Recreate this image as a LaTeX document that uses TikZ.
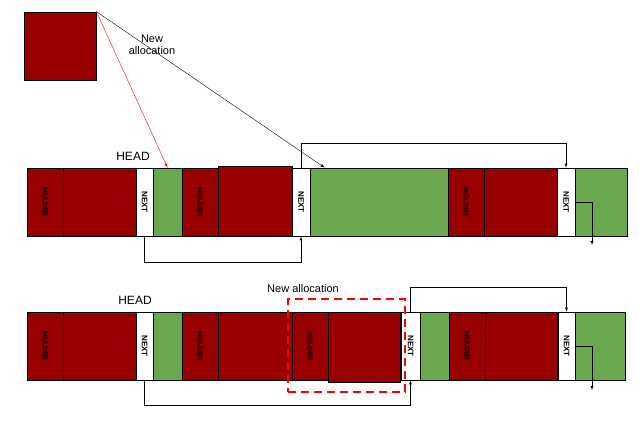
\documentclass[tikz,border=0pt]{standalone}
\usepackage{fontspec}
\setmainfont{Liberation Sans}
\usetikzlibrary{calc}
\definecolor{used}{RGB}{153,0,0}
\definecolor{free}{RGB}{106,168,79}
\tikzset{
  cell/.style={draw, thick, inner sep=0pt, minimum height=68pt},
  hdr/.style={cell, fill=used, font=\bfseries\fontsize{7}{7}\selectfont},
  body/.style={cell, fill=used},
  nxt/.style={cell, fill=white, font=\bfseries\fontsize{8}{8}\selectfont},
  fr/.style={cell, fill=free},
  link/.style={draw, ->, >=latex},
}
\newcommand{\vtext}[1]{\rotatebox{-90}{#1}}
\begin{document}
\begin{tikzpicture}[x=1pt,y=-1pt]
\useasboundingbox (0,0) rectangle (639,440);
% new block
\node[body, minimum width=72pt] (newblk) at (60,46) {};
\node[align=center, font=\fontsize{11}{12}\selectfont] (newlbl) at (152,45) {New\\allocation};
% row 1
\node[hdr, minimum width=36pt] (h1) at (45,202) {\vtext{HEADER}};
\node[body, minimum width=73pt] (b1) at (99.5,202) {};
\node[nxt, minimum width=17pt] (n1) at (144.5,202) {\vtext{NEXT}};
\node[fr, minimum width=29pt] (g1) at (167.5,202) {};
\node[hdr, minimum width=36pt] (h2) at (200,202) {\vtext{HEADER}};
\node[body, minimum width=74pt, minimum height=70pt] (b2) at (255,201) {};
\node[nxt, minimum width=18pt] (n2) at (301,202) {\vtext{NEXT}};
\node[fr, minimum width=138pt] (g2) at (379,202) {};
\node[hdr, minimum width=36pt] (h3) at (466,202) {\vtext{HEADER}};
\node[body, minimum width=73pt] (b3) at (520.5,202) {};
\node[nxt, minimum width=18pt] (n3) at (566,202) {\vtext{NEXT}};
\node[fr, minimum width=52pt] (g3) at (601,202) {};
\node[font=\fontsize{12}{12}\selectfont] (head1) at (133,156) {HEAD};
\coordinate (e1) at (592,245);
% row 2
\node[hdr, minimum width=36pt] (r1) at (45,346) {\vtext{HEADER}};
\node[body, minimum width=73pt] (s1) at (99.5,346) {};
\node[nxt, minimum width=17pt] (m1) at (144.5,346) {\vtext{NEXT}};
\node[fr, minimum width=29pt] (q1) at (167.5,346) {};
\node[hdr, minimum width=36pt] (r2) at (200,346) {\vtext{HEADER}};
\node[body, minimum width=74pt] (s2) at (255,346) {};
\node[hdr, minimum width=36pt] (r3) at (310,346) {\vtext{HEADER}};
\node[body, minimum width=72pt, minimum height=70pt] (s3) at (364,347) {};
\node[nxt, minimum width=19pt] (m2) at (410.5,346) {\vtext{NEXT}};
\node[fr, minimum width=29pt] (q2) at (434.5,346) {};
\node[hdr, minimum width=36pt] (r4) at (467,346) {\vtext{HEADER}};
\node[body, minimum width=72pt] (s4) at (521,346) {};
\node[nxt, minimum width=17pt] (m3) at (566.5,346) {\vtext{NEXT}};
\node[fr, minimum width=50pt] (q3) at (600,346) {};
\node[font=\fontsize{12}{12}\selectfont] (head2) at (135,300) {HEAD};
\node[draw=red, very thick, dashed, dash pattern=on 8pt off 5pt, minimum width=117pt, minimum height=93pt, inner sep=0pt] (alloc) at (346.5,345.5) {};
\node[font=\fontsize{11}{12}\selectfont] (alloclbl) at (303,289) {New allocation};
\coordinate (e2) at (592,390);
% connectors row 1
\draw[link, red] (newblk.north east) -- (g1.north);
\draw[link] (newblk.north east) -- ($(g2.north west)+(15,0)$);
\draw[link] (n1.south) -- ++(0,26) -| (n2.south);
\draw[link] (n2.north) -- ++(0,-24) -| (n3.north);
\draw[link] (n3.east) -- (e1 |- n3.east) -- (e1);
% connectors row 2
\draw[link] (m1.south) -- ++(0,25) -| (m2.south);
\draw[link] (m2.north) -- ++(0,-24) -| (m3.north);
\draw[link] (m3.east) -- (e2 |- m3.east) -- (e2);
\end{tikzpicture}
\end{document}
